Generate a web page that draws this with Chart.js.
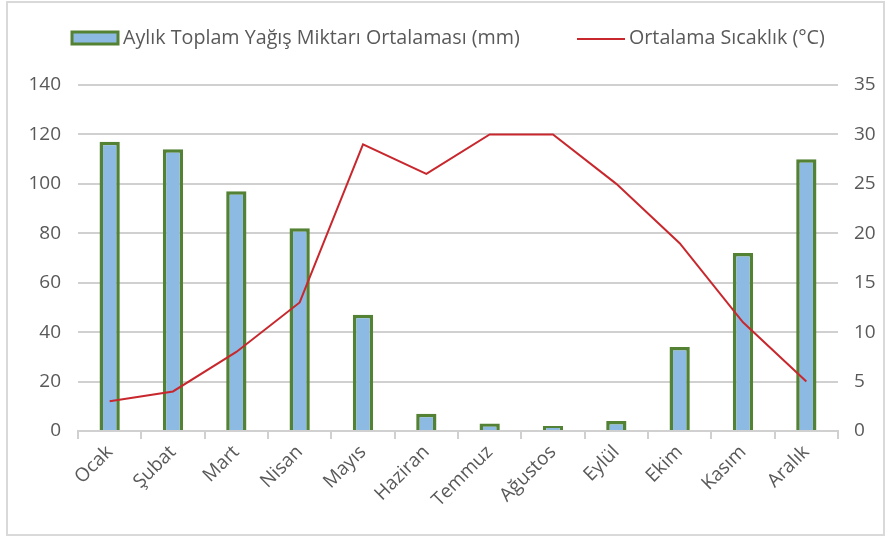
<!DOCTYPE html>
<html>
<head>
<meta charset="utf-8">
<script src="https://cdn.jsdelivr.net/npm/chart.js@4"></script>
<style>
  html, body { margin: 0; padding: 0; background: #fff; }
  #wrap { width: 891px; height: 540px; }
</style>
</head>
<body>
<div id="wrap"><canvas id="chart" width="891" height="540"></canvas></div>
<script>
const months = ['Ocak', 'Şubat', 'Mart', 'Nisan', 'Mayıs', 'Haziran', 'Temmuz', 'Ağustos', 'Eylül', 'Ekim', 'Kasım', 'Aralık'];
const rainfall = [117, 114, 97, 82, 47, 7, 3, 2, 4, 34, 72, 110];
const temperature = [3, 4, 8, 13, 29, 26, 30, 30, 25, 19, 11, 5];
const rainLabel = 'Aylık Toplam Yağış Miktarı Ortalaması (mm)';
const tempLabel = 'Ortalama Sıcaklık (°C)';

const FONT = '"Open Sans", sans-serif';
const FSIZE = 19;
const TEXT = '#595959';
const BAR_FILL = '#8DBAE2';
const BAR_EDGE = '#548235';
const LINE = '#C8282D';

// frame + legend drawn by hand so the spacing matches
const frameLegend = {
    id: 'frameLegend',
    beforeDraw(chart) {
        const c = chart.ctx;
        c.save();
        c.fillStyle = '#fff';
        c.fillRect(0, 0, chart.width, chart.height);
        c.strokeStyle = '#D9D9D9';
        c.lineWidth = 2;
        c.strokeRect(7, 2, 877, 533);
        c.restore();
    },
    afterDraw(chart) {
        const c = chart.ctx;
        c.save();
        c.font = '19.7px ' + FONT;
        c.textBaseline = 'middle';
        // bar swatch
        c.fillStyle = BAR_FILL;
        c.fillRect(72, 32, 46, 12);
        c.strokeStyle = BAR_EDGE;
        c.lineWidth = 3;
        c.strokeRect(72, 32, 46, 12);
        c.fillStyle = TEXT;
        c.fillText(rainLabel, 123, 38);
        // line swatch
        c.strokeStyle = LINE;
        c.lineWidth = 2;
        c.beginPath();
        c.moveTo(577, 39);
        c.lineTo(625, 39);
        c.stroke();
        c.fillText(tempLabel, 629, 38);
        c.restore();
    }
};

new Chart(document.getElementById('chart'), {
    data: {
        labels: months,
        datasets: [
            {
                type: 'bar',
                label: rainLabel,
                data: rainfall,
                backgroundColor: BAR_FILL,
                borderColor: BAR_EDGE,
                borderWidth: 3.5,
                barPercentage: 0.32,
                categoryPercentage: 1,
                yAxisID: 'y',
                order: 2
            },
            {
                type: 'line',
                label: tempLabel,
                data: temperature,
                borderColor: LINE,
                borderWidth: 2,
                pointRadius: 0,
                tension: 0,
                yAxisID: 'y1',
                order: 1
            }
        ]
    },
    options: {
        responsive: false,
        animation: false,
        layout: { padding: { top: 85, left: 0, right: 0, bottom: 9 } },
        plugins: {
            legend: { display: false },
            tooltip: { enabled: false }
        },
        scales: {
            x: {
                offset: true,
                grid: {
                    offset: true,
                    drawOnChartArea: false,
                    drawTicks: true,
                    tickLength: 8,
                    color: '#D0D0D0',
                    lineWidth: 2
                },
                border: { color: '#D0D0D0', width: 2 },
                ticks: {
                    color: TEXT,
                    font: { family: FONT, size: FSIZE },
                    minRotation: 45,
                    maxRotation: 45,
                    padding: 2,
                    autoSkip: false
                },
                afterFit(scale) { scale.height = 100; }
            },
            y: {
                position: 'left',
                min: 0,
                max: 140,
                border: { display: false },
                grid: {
                    drawTicks: false,
                    color: ctx => (ctx.tick && ctx.tick.value % 20 === 0) ? '#D0D0D0' : '#EAEAEA',
                    lineWidth: 2
                },
                ticks: {
                    stepSize: 4,
                    maxTicksLimit: 60,
                    autoSkip: false,
                    color: TEXT,
                    font: { family: FONT, size: FSIZE },
                    padding: 17,
                    callback: v => (v % 20 === 0 ? v : null)
                },
                afterFit(scale) { scale.width = 78; }
            },
            y1: {
                position: 'right',
                min: 0,
                max: 35,
                border: { display: false },
                grid: { display: false, drawOnChartArea: false },
                ticks: {
                    stepSize: 5,
                    color: TEXT,
                    font: { family: FONT, size: FSIZE },
                    padding: 8
                },
                afterFit(scale) { scale.width = 891 - 838; }
            }
        }
    },
    plugins: [frameLegend]
});
</script>
</body>
</html>
